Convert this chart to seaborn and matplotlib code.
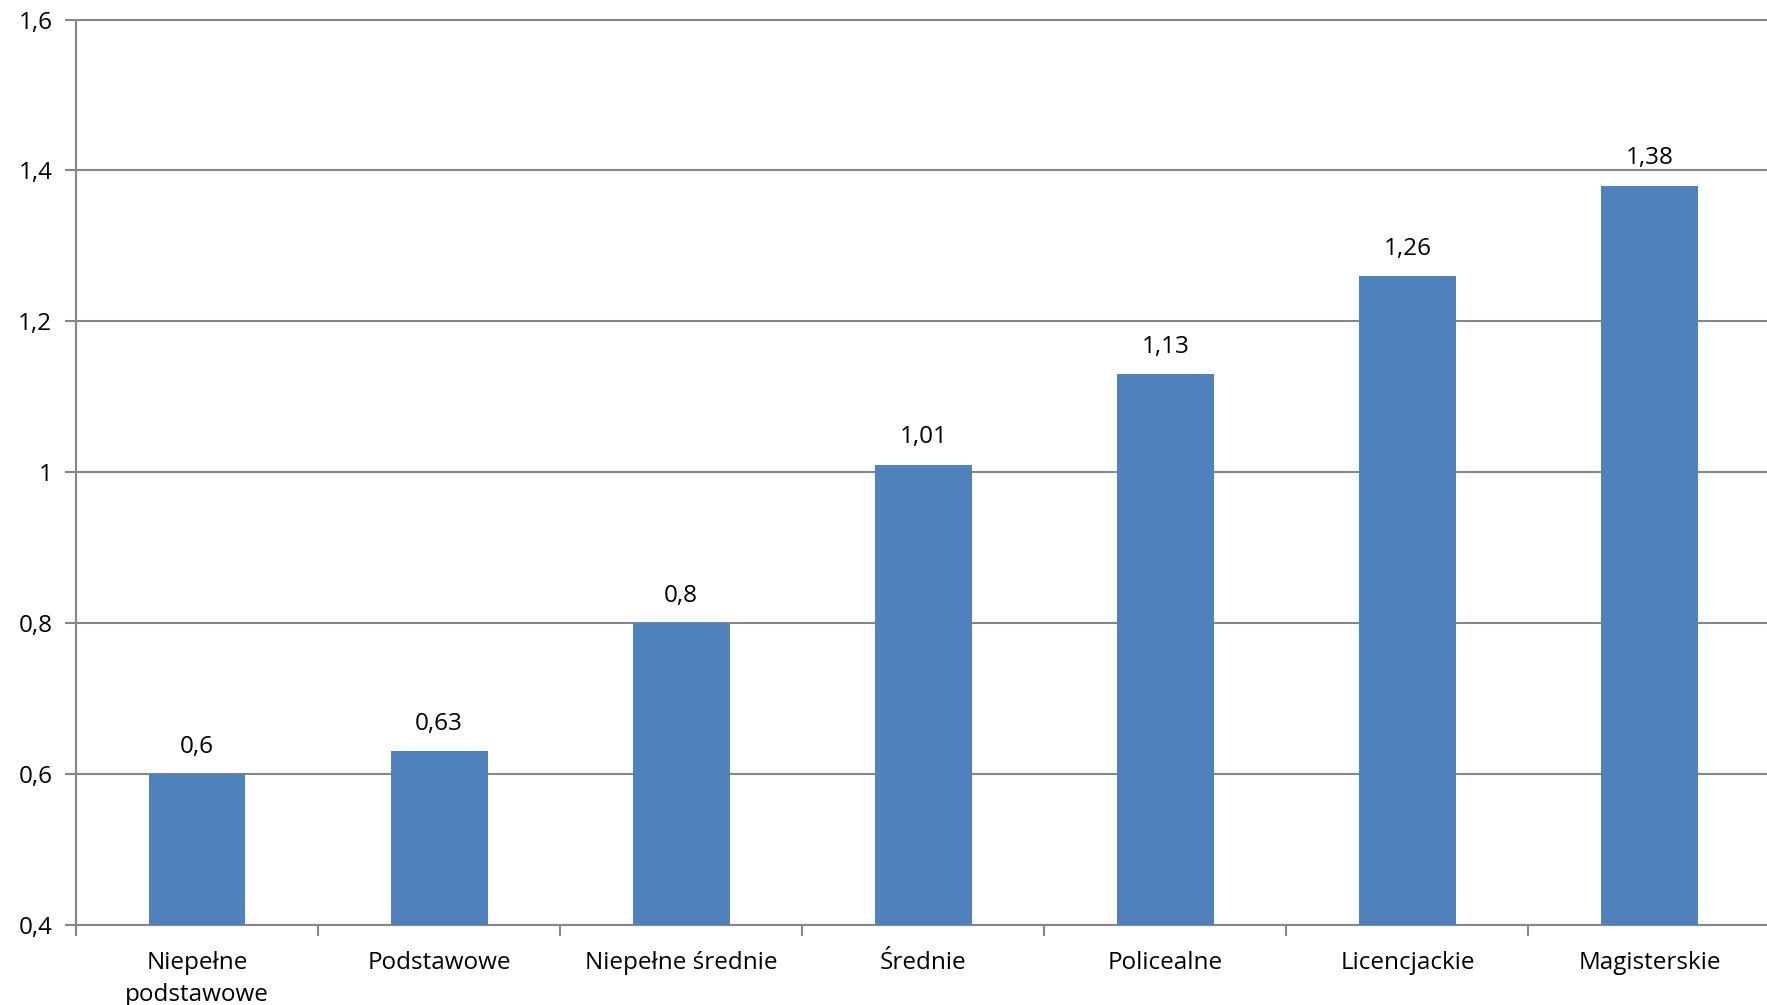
import matplotlib
matplotlib.use("Agg")
import matplotlib.pyplot as plt
import seaborn as sns
import pandas as pd
import numpy as np

categories = ["Niepełne\npodstawowe", "Podstawowe", "Niepełne średnie", "Średnie",
              "Policealne", "Licencjackie", "Magisterskie"]
values = [0.6, 0.63, 0.8, 1.01, 1.13, 1.26, 1.38]
value_labels = ["0,6", "0,63", "0,8", "1,01", "1,13", "1,26", "1,38"]
y_ticks = [0.4, 0.6, 0.8, 1.0, 1.2, 1.4, 1.6]
y_tick_labels = ["0,4", "0,6", "0,8", "1", "1,2", "1,4", "1,6"]

sns.set_theme(style="white")
plt.rcParams["font.family"] = ["Open Sans", "DejaVu Sans"]

GRAY = "#868686"
BAR = "#4F81BD"
FS = 17.5

df = pd.DataFrame({"cat": categories, "val": values})

fig = plt.figure(figsize=(17.67, 10.05), dpi=100)
ax = fig.add_axes([76 / 1767, 1 - 925 / 1005, 1 - 76 / 1767 + 0.002, (925 - 19.5) / 1005])

sns.barplot(data=df, x="cat", y="val", color=BAR, width=0.4, ax=ax,
            saturation=1, zorder=3, linewidth=0, edgecolor=BAR)

ax.set_ylim(0.4, 1.6)
ax.set_xlim(-0.5, len(categories) - 0.5)
ax.set_yticks(y_ticks)
ax.set_yticklabels(y_tick_labels, fontsize=FS)
ax.set_xticks(range(len(categories)))
ax.set_xticklabels(categories, fontsize=FS, linespacing=1.42)
ax.set_xlabel("")
ax.set_ylabel("")

ax.yaxis.grid(True, color=GRAY, linewidth=1.5, zorder=0)
ax.set_axisbelow(True)

for s in ["top", "right"]:
    ax.spines[s].set_visible(False)
for s in ["left", "bottom"]:
    ax.spines[s].set_color(GRAY)
    ax.spines[s].set_linewidth(1.5)

ax.tick_params(axis="y", which="major", length=8, width=1.5, color=GRAY,
               direction="out", left=True, pad=9, labelcolor="black")
ax.tick_params(axis="x", which="major", length=0, pad=19, labelcolor="black")
ax.set_xticks(np.arange(-0.5, len(categories) - 0.4, 1.0), minor=True)
ax.tick_params(axis="x", which="minor", length=8, width=1.5, color=GRAY,
               direction="out", bottom=True)

ax.bar_label(ax.containers[0], labels=value_labels, padding=11, fontsize=FS,
             color="black")

fig.savefig("out.png", dpi=100)
